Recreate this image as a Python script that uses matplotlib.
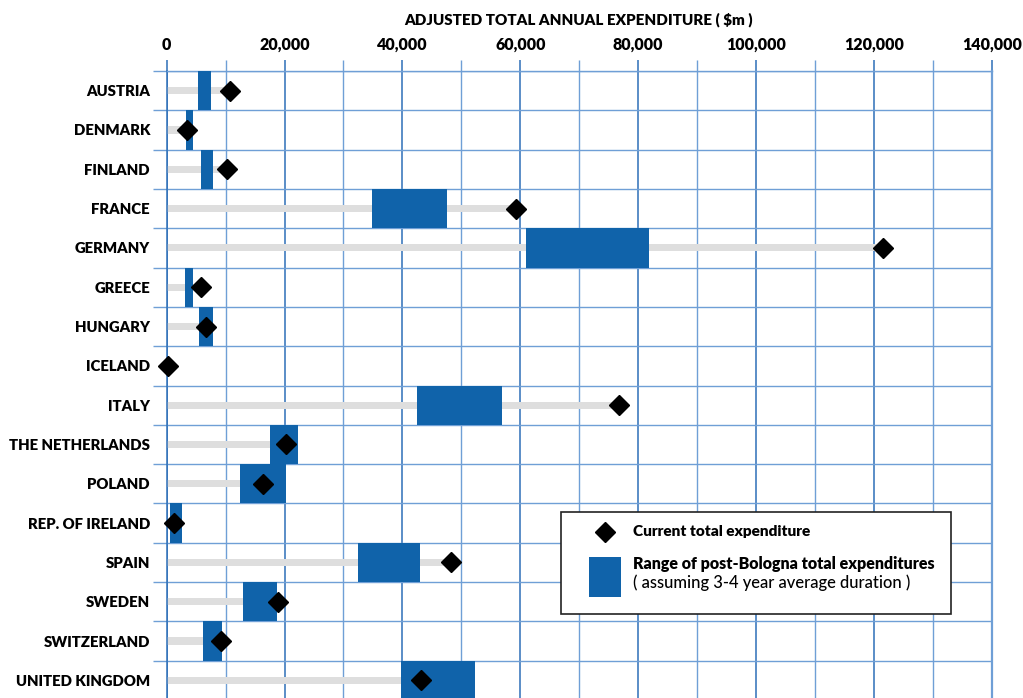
import matplotlib
matplotlib.use("Agg")
import matplotlib.pyplot as plt
from matplotlib.patches import Rectangle
from matplotlib.lines import Line2D
from matplotlib.ticker import MultipleLocator, FuncFormatter
import numpy as np

countries = ["AUSTRIA", "DENMARK", "FINLAND", "FRANCE", "GERMANY", "GREECE",
             "HUNGARY", "ICELAND", "ITALY", "THE NETHERLANDS", "POLAND",
             "REP. OF IRELAND", "SPAIN", "SWEDEN", "SWITZERLAND", "UNITED KINGDOM"]
current = [10700, 3500, 10200, 59300, 121600, 5900, 6700, 200, 76800, 20300,
           16300, 1200, 48300, 18900, 9200, 43100]
range_low = [5300, 3200, 5800, 34900, 61000, 3100, 5400, 0, 42400, 17600,
             12500, 500, 32400, 13000, 6100, 39700]
range_high = [7500, 4400, 7800, 47600, 81900, 4500, 7900, 0, 56900, 22200,
              20200, 2600, 43000, 18800, 9400, 52400]
x_ticks = [0, 20000, 40000, 60000, 80000, 100000, 120000, 140000]

FONT = "Lato"
BOLD = "heavy"
BLUE = "#1063aa"
GRID_MAJ = "#2d6fb8"
GRID_MIN = "#6f9fd6"

fig = plt.figure(figsize=(10.23, 6.98), dpi=100)
W, H = 1023, 698
ax = fig.add_axes([166.7 / W, 0, (991.7 - 166.7) / W, (698 - 71) / H])

n = len(countries)
y = np.arange(n)

# grey bar from 0 to current
ax.barh(y, current, height=0.18, color="#dedede", zorder=2)
# blue range bars
widths = [h - l for l, h in zip(range_low, range_high)]
ax.barh(y, widths, left=range_low, height=1.0, color=BLUE, zorder=3)
ax.plot(current, y, linestyle="none", marker="D", markersize=10.5,
        color="black", zorder=4, clip_on=False)

ax.set_xlim(0, 140000)
ax.set_ylim(n - 0.5 - (700 - 698) / 39.3, -0.5)

ax.xaxis.tick_top()
ax.set_xticks(x_ticks)
ax.xaxis.set_minor_locator(MultipleLocator(10000))
ax.xaxis.set_major_formatter(FuncFormatter(lambda v, p: f"{int(v):,}"))
ax.tick_params(axis="x", which="major", length=8, width=1.1, color=GRID_MAJ,
               pad=5, labelsize=11.5)
ax.tick_params(axis="x", which="minor", length=8, width=1.0, color=GRID_MIN)
for lab in ax.get_xticklabels():
    lab.set_fontfamily(FONT)
    lab.set_fontweight(BOLD)

ax.set_yticks(y)
ax.set_yticklabels(countries, fontfamily=FONT, fontweight=BOLD, fontsize=10.7)
ax.yaxis.set_minor_locator(MultipleLocator(1, offset=0.5))
ax.tick_params(axis="y", which="major", length=0, pad=12)
ax.tick_params(axis="y", which="minor", length=10, width=1.0, color=GRID_MIN)

ax.grid(True, axis="x", which="major", color=GRID_MAJ, linewidth=1.1, zorder=1)
ax.grid(True, axis="x", which="minor", color=GRID_MIN, linewidth=1.0, zorder=1)
ax.grid(True, axis="y", which="minor", color=GRID_MIN, linewidth=1.0, zorder=1)
ax.set_axisbelow(True)
for s in ax.spines.values():
    s.set_visible(False)
ax.spines["top"].set_visible(True)
ax.spines["top"].set_color(GRID_MIN)
ax.spines["top"].set_linewidth(1.0)
ax.spines["left"].set_visible(True)
ax.spines["left"].set_color(GRID_MAJ)
ax.spines["left"].set_linewidth(1.1)
ax.spines["right"].set_visible(True)
ax.spines["right"].set_color(GRID_MIN)
ax.spines["right"].set_linewidth(1.6)

fig.text(579 / W, 1 - 20 / H, "ADJUSTED TOTAL ANNUAL EXPENDITURE ( $m )",
         ha="center", va="center", fontfamily=FONT, fontweight=BOLD, fontsize=10.9)

# legend box (figure pixel coordinates)
def fx(px):
    return px / W

def fy(py):
    return 1 - py / H

fig.add_artist(Rectangle((fx(561), fy(614)), fx(951) - fx(561), fy(512) - fy(614),
                         transform=fig.transFigure, facecolor="white",
                         edgecolor="#222222", linewidth=1.2, zorder=10))
fig.add_artist(Line2D([fx(605)], [fy(532)], marker="D", markersize=10,
                      color="black", linestyle="none", transform=fig.transFigure,
                      zorder=11))
fig.add_artist(Rectangle((fx(589), fy(597)), fx(621) - fx(589), fy(557) - fy(597),
                         transform=fig.transFigure, facecolor=BLUE,
                         edgecolor="none", zorder=11))
fig.text(fx(633), fy(532), "Current total expenditure", ha="left", va="center",
         fontfamily=FONT, fontweight=BOLD, fontsize=11.1, zorder=12)
fig.text(fx(633), fy(564), "Range of post-Bologna total expenditures", ha="left",
         va="center", fontfamily=FONT, fontweight=BOLD, fontsize=11.5, zorder=12)
fig.text(fx(633), fy(583), "( assuming 3-4 year average duration )", ha="left",
         va="center", fontfamily=FONT, fontweight=500, fontsize=11.9, zorder=12)

fig.savefig("out.png", dpi=100)
